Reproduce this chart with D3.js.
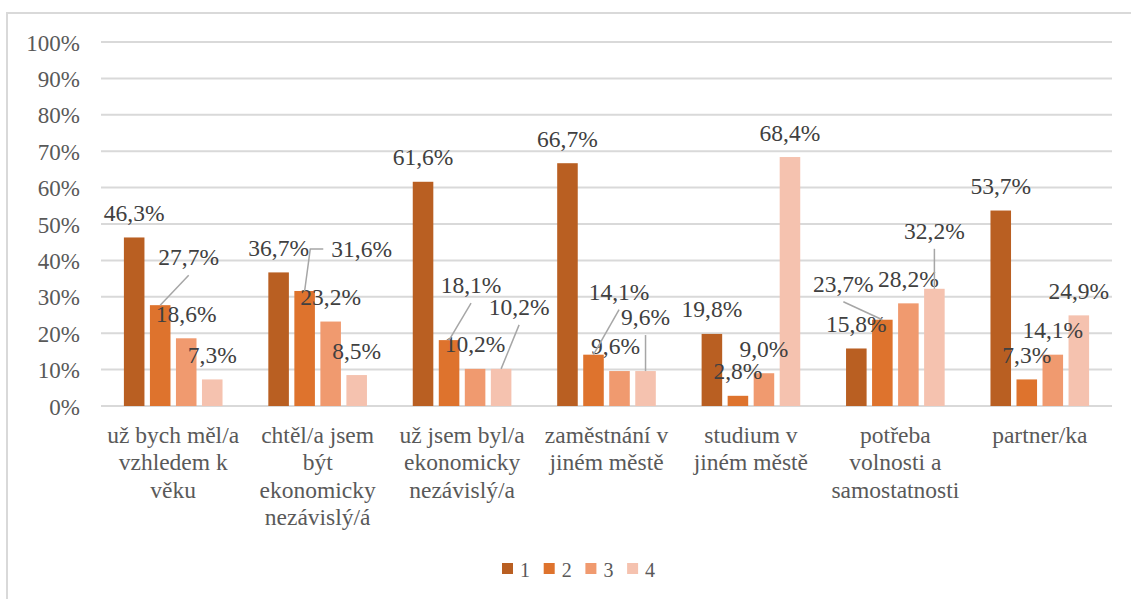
<!DOCTYPE html>
<html>
<head>
<meta charset="utf-8">
<script src="https://cdn.jsdelivr.net/npm/d3@7"></script>
</head>
<body style="margin:0; background:#fff">
<svg id="chart" width="1131" height="599"></svg>
<script>
// data
var categories = [
  ["už bych měl/a", "vzhledem k", "věku"],
  ["chtěl/a jsem", "být", "ekonomicky", "nezávislý/á"],
  ["už jsem byl/a", "ekonomicky", "nezávislý/a"],
  ["zaměstnání v", "jiném městě"],
  ["studium v", "jiném městě"],
  ["potřeba", "volnosti a", "samostatnosti"],
  ["partner/ka"]
];
var seriesNames = ["1", "2", "3", "4"];
var s1 = [46.3, 36.7, 61.6, 66.7, 19.8, 15.8, 53.7];
var s2 = [27.7, 31.6, 18.1, 14.1, 2.8, 23.7, 7.3];
var s3 = [18.6, 23.2, 10.2, 9.6, 9.0, 28.2, 14.1];
var s4 = [7.3, 8.5, 10.2, 9.6, 68.4, 32.2, 24.9];
var yTicks = [0, 10, 20, 30, 40, 50, 60, 70, 80, 90, 100];

var colors = ["#b95f22", "#de732d", "#f09a6f", "#f5c2af"];
var serif = "'Liberation Serif'";

// manual label moves (dx, dy from default spot) and leader lines, like in the excel chart
var labelMoves = {
  "0-1": [28.5, -23.5],
  "1-1": [57, -17.5],
  "2-1": [22, -30.5],
  "2-3": [18, -37.5],
  "3-1": [25.6, -38.5],
  "3-2": [-4, -1],
  "3-3": [0, -29.5],
  "5-1": [-39, -11.5],
  "5-3": [0, -33.5]
};
var leaders = ["0-1", "2-1", "2-3", "3-1", "3-3", "5-1", "5-3"];
var elbowLeaders = ["1-1"];

var allSeries = [s1, s2, s3, s4];
var rows = [];
categories.forEach(function(c, i) {
  allSeries.forEach(function(s, j) {
    rows.push({cat: i, ser: j, value: s[i]});
  });
});

var width = 1131, height = 599;
var margin = {top: 42, right: 19, bottom: 193, left: 101};

var svg = d3.select("#chart");

// texts are start-anchored and shifted by their own length
function shift(sel, k) {
  sel.attr("x", function() {
    var t = d3.select(this);
    return +t.attr("x") - this.getComputedTextLength() * k;
  });
}

// outer frame (cut off on the right and bottom)
svg.append("rect")
  .attr("x", 7).attr("y", 13)
  .attr("width", width).attr("height", height)
  .attr("fill", "none")
  .attr("stroke", "#d9d9d9")
  .attr("stroke-width", 2);

var x0 = d3.scaleBand()
  .domain(d3.range(categories.length))
  .range([margin.left, width - margin.right]);

var x1 = d3.scaleBand()
  .domain(d3.range(seriesNames.length))
  .range([0, x0.bandwidth()])
  .paddingInner(0.21)
  .paddingOuter(0.88);

var y = d3.scaleLinear()
  .domain([0, 100])
  .range([height - margin.bottom, margin.top]);

// grid
svg.append("g")
  .selectAll("line")
  .data(yTicks)
  .enter()
  .append("line")
    .attr("x1", margin.left)
    .attr("x2", width - margin.right)
    .attr("y1", d => y(d))
    .attr("y2", d => y(d))
    .attr("stroke", "#d9d9d9")
    .attr("stroke-width", 2);

// y axis labels
var yLabels = svg.append("g")
  .selectAll("text")
  .data(yTicks)
  .enter()
  .append("text")
    .attr("x", margin.left - 21)
    .attr("y", d => y(d) + 8.5)
    .attr("font-family", serif)
    .attr("font-size", 23)
    .attr("fill", "#595959")
    .text(d => d + "%");
shift(yLabels, 1);

function barX(d) { return x0(d.cat) + x1(d.ser); }
function barCx(d) { return barX(d) + x1.bandwidth() / 2; }

// bars
svg.append("g")
  .selectAll("rect")
  .data(rows)
  .enter()
  .append("rect")
    .attr("x", barX)
    .attr("y", d => y(d.value))
    .attr("width", x1.bandwidth())
    .attr("height", d => y(0) - y(d.value))
    .attr("fill", d => colors[d.ser]);

// data labels
function labelPos(d) {
  var m = labelMoves[d.cat + "-" + d.ser] || [0, 0];
  return [barCx(d) + m[0], y(d.value) - 16.5 + m[1]];
}

var labels = svg.append("g")
  .selectAll("text")
  .data(rows)
  .enter()
  .append("text")
    .attr("x", d => labelPos(d)[0])
    .attr("y", d => labelPos(d)[1])
    .attr("font-family", serif)
    .attr("font-size", 23.5)
    .attr("fill", "#404040")
    .text(d => d.value.toFixed(1).replace(".", ",") + "%");
shift(labels, 0.5);

// leader lines
var leaderG = svg.append("g")
  .attr("fill", "none")
  .attr("stroke", "#a6a6a6")
  .attr("stroke-width", 1.5);

rows.forEach(function(d) {
  var key = d.cat + "-" + d.ser;
  var p = labelPos(d);
  if (leaders.indexOf(key) >= 0) {
    leaderG.append("line")
      .attr("x1", p[0]).attr("y1", p[1] + 10)
      .attr("x2", barCx(d)).attr("y2", y(d.value));
  } else if (elbowLeaders.indexOf(key) >= 0) {
    var node = labels.filter(e => e === d).node();
    var left = +node.getAttribute("x");
    leaderG.append("polyline")
      .attr("points", [[left - 8, p[1] - 8], [left - 21, p[1] - 8], [barCx(d), y(d.value)]].join(" "));
  }
});

// category labels, one text per line
var catG = svg.append("g");
categories.forEach(function(lines, i) {
  lines.forEach(function(l, k) {
    catG.append("text")
      .attr("x", x0(i) + x0.bandwidth() / 2)
      .attr("y", 443 + k * 27.3)
      .attr("font-family", serif)
      .attr("font-size", 23.5)
      .attr("fill", "#595959")
      .text(l);
  });
});
shift(catG.selectAll("text"), 0.5);

// legend
var legend = svg.append("g")
  .selectAll("g")
  .data(seriesNames)
  .enter()
  .append("g")
    .attr("transform", (d, i) => "translate(" + (502 + i * 41.7) + ",563)");
legend.append("rect")
  .attr("width", 11).attr("height", 11)
  .attr("fill", (d, i) => colors[i]);
legend.append("text")
  .attr("x", 18).attr("y", 13.5)
  .attr("font-family", serif)
  .attr("font-size", 20)
  .attr("fill", "#595959")
  .text(d => d);
</script>
</body>
</html>
